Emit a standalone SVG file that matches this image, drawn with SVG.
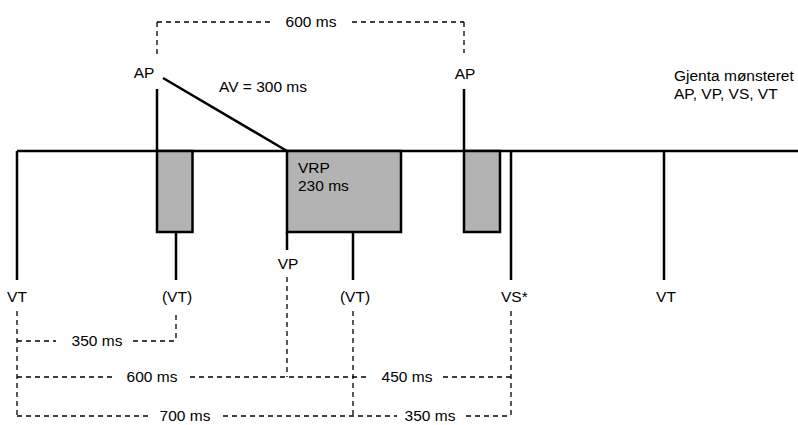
<svg xmlns="http://www.w3.org/2000/svg" width="798" height="425" viewBox="0 0 798 425">
<style>
.s{stroke:#000;stroke-width:2.5;fill:none}
.b{stroke:#000;stroke-width:2.5;fill:#b3b3b3}
.d{stroke:#000;stroke-width:1.3;fill:none;stroke-dasharray:5,4}
text{font-family:"Liberation Sans",Arial,sans-serif;font-size:15.5px;fill:#000}
.m{text-anchor:middle}
</style>
<rect width="798" height="425" fill="#fff"/>
<g id="connectors">
<line class="s" x1="17" y1="151" x2="798" y2="151"/>
<line class="s" x1="163" y1="78" x2="287" y2="151"/>
<line class="d" x1="157" y1="22" x2="272" y2="22"/>
<line class="d" x1="352" y1="22" x2="464" y2="22"/>
<line class="d" x1="157" y1="22" x2="157" y2="56"/>
<line class="d" x1="464" y1="22" x2="464" y2="53"/>
<line class="d" x1="17" y1="311" x2="17" y2="416"/>
<line class="d" x1="176" y1="315" x2="176" y2="341"/>
<line class="d" x1="287" y1="277" x2="287" y2="377"/>
<line class="d" x1="353" y1="311" x2="353" y2="416"/>
<line class="d" x1="511" y1="311" x2="511" y2="416"/>
<line class="d" x1="17" y1="341" x2="56" y2="341"/>
<line class="d" x1="133" y1="341" x2="176" y2="341"/>
<line class="d" x1="17" y1="377" x2="112" y2="377"/>
<line class="d" x1="190" y1="377" x2="368" y2="377"/>
<line class="d" x1="443" y1="377" x2="511" y2="377"/>
<line class="d" x1="17" y1="416" x2="150" y2="416"/>
<line class="d" x1="223" y1="416" x2="397" y2="416"/>
<line class="d" x1="466" y1="416" x2="511" y2="416"/>
<text class="m" x="311" y="27">600 ms</text>
<text x="219" y="92">AV = 300 ms</text>
<text class="m" x="97" y="346">350 ms</text>
<text class="m" x="152" y="382">600 ms</text>
<text class="m" x="407" y="382">450 ms</text>
<text class="m" x="185" y="421">700 ms</text>
<text class="m" x="430" y="421">350 ms</text>
</g>
<g id="vt1">
<line class="s" x1="17" y1="151" x2="17" y2="280"/>
<text class="m" x="17" y="302">VT</text>
</g>
<g id="ap1">
<line class="s" x1="157" y1="89" x2="157" y2="151"/>
<text class="m" x="144" y="78">AP</text>
<rect class="b" x="157" y="151" width="35.5" height="81"/>
<line class="s" x1="176" y1="232" x2="176" y2="280"/>
<text class="m" x="177" y="302">(VT)</text>
</g>
<g id="vrp">
<rect class="b" x="287" y="151" width="114" height="81"/>
<text x="298" y="173">VRP</text>
<text x="298" y="191">230 ms</text>
<line class="s" x1="287" y1="232" x2="287" y2="250"/>
<text class="m" x="288" y="269">VP</text>
<line class="s" x1="353" y1="232" x2="353" y2="280"/>
<text class="m" x="355" y="302">(VT)</text>
</g>
<g id="ap2">
<line class="s" x1="464" y1="89" x2="464" y2="151"/>
<text class="m" x="465" y="79">AP</text>
<rect class="b" x="464" y="151" width="36" height="81"/>
</g>
<g id="vs">
<line class="s" x1="511" y1="151" x2="511" y2="280"/>
<text x="501" y="302">VS*</text>
</g>
<g id="vt2">
<line class="s" x1="664" y1="151" x2="664" y2="280"/>
<text class="m" x="666" y="302">VT</text>
</g>
<g id="note">
<text x="674" y="81">Gjenta mønsteret</text>
<text x="674" y="99">AP, VP, VS, VT</text>
</g>
</svg>
